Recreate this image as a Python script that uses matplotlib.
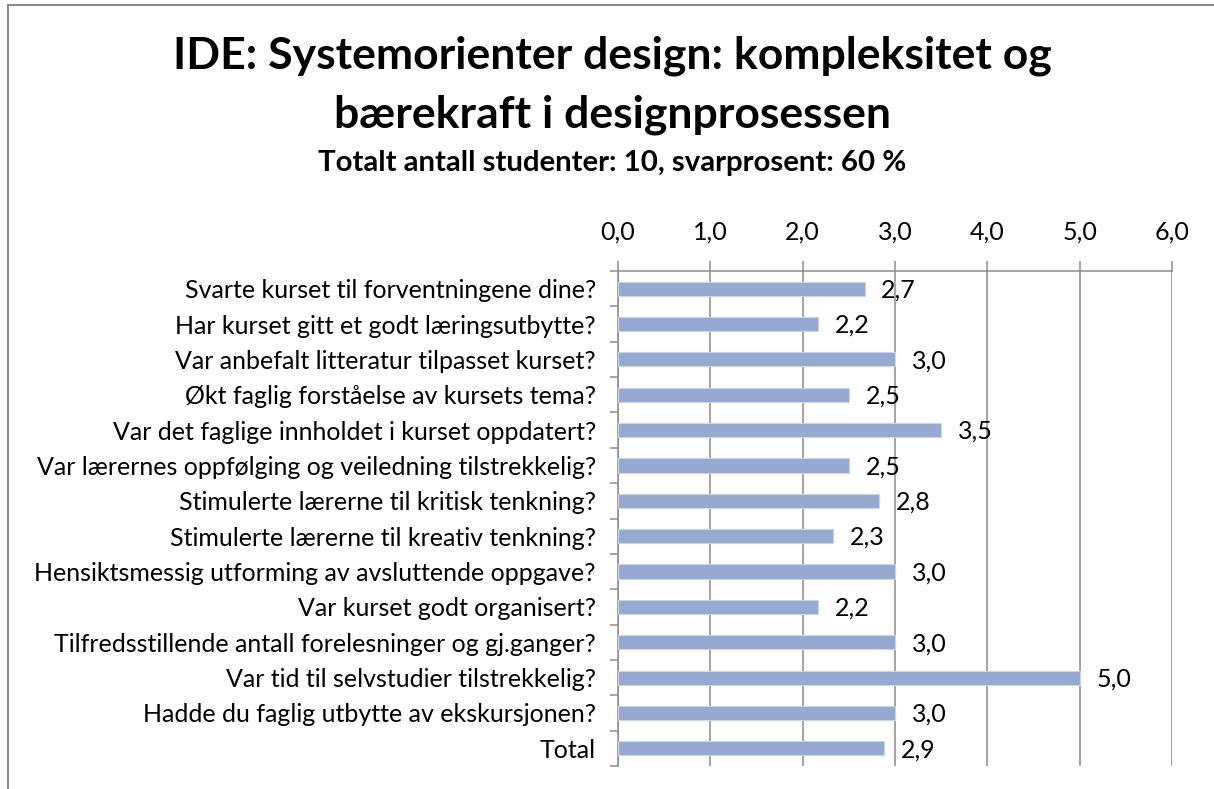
import matplotlib
matplotlib.use("Agg")
import matplotlib.pyplot as plt
from matplotlib.lines import Line2D
from matplotlib.ticker import FixedLocator, FuncFormatter

categories = [
    "Svarte kurset til forventningene dine?",
    "Har kurset gitt et godt læringsutbytte?",
    "Var anbefalt litteratur tilpasset kurset?",
    "Økt faglig forståelse av kursets tema?",
    "Var det faglige innholdet i kurset oppdatert?",
    "Var lærernes oppfølging og veiledning tilstrekkelig?",
    "Stimulerte lærerne til kritisk tenkning?",
    "Stimulerte lærerne til kreativ tenkning?",
    "Hensiktsmessig utforming av avsluttende oppgave?",
    "Var kurset godt organisert?",
    "Tilfredsstillende antall forelesninger og gj.ganger?",
    "Var tid til selvstudier tilstrekkelig?",
    "Hadde du faglig utbytte av ekskursjonen?",
    "Total",
]
values = [2.67, 2.17, 3.0, 2.5, 3.5, 2.5, 2.83, 2.33, 3.0, 2.17, 3.0, 5.0, 3.0, 2.88]
xticks = [0, 1, 2, 3, 4, 5, 6]

title_line = "IDE: Systemorienter design: kompleksitet og\nbærekraft i designprosessen"
subtitle = "Totalt antall studenter: 10, svarprosent: 60 %"

plt.rcParams['font.family'] = ['Lato', 'DejaVu Sans']

W, H = 1214, 789
fig = plt.figure(figsize=(W / 100, H / 100), dpi=100)
ax = fig.add_axes([618 / W, 1 - 766 / H, (1172 - 618) / W, (766 - 271) / H])

grid_c = '#8c8c8c'
fs = 18
n = len(categories)
pos = list(range(n))
ax.barh(pos, values, height=0.4, color='#95A9D1', edgecolor='#C9D5EB', linewidth=0.8, zorder=3)
ax.set_ylim(n - 0.5, -0.5)
ax.set_xlim(0, 6)

ax.xaxis.set_ticks_position('top')
ax.xaxis.set_label_position('top')
ax.set_xticks(xticks)
ax.xaxis.set_major_formatter(FuncFormatter(lambda v, p: f"{v:.1f}".replace('.', ',')))
ax.tick_params(axis='x', direction='out', length=7, width=1.1, color=grid_c, pad=13,
               labelsize=fs, labelcolor='black')
ax.grid(axis='x', color=grid_c, linewidth=1.1, zorder=0)

ax.set_yticks(pos)
ax.set_yticklabels(categories)
ax.tick_params(axis='y', which='major', length=0, pad=16, labelsize=fs)
ax.yaxis.set_minor_locator(FixedLocator([i - 0.5 for i in range(n + 1)]))
ax.tick_params(axis='y', which='minor', direction='out', length=6, width=1.1, color=grid_c)

for s in ['right', 'bottom']:
    ax.spines[s].set_visible(False)
for s in ['left', 'top']:
    ax.spines[s].set_color(grid_c)
    ax.spines[s].set_linewidth(1.1)

for i, v in enumerate(values):
    ax.annotate(f"{v:.1f}".replace('.', ','), xy=(v, i), xytext=(12, -1),
                textcoords='offset points', ha='left', va='center', fontsize=fs)

fig.text(612 / W, 1 - 85 / H, title_line, ha='center', va='center', fontsize=32,
         fontweight='bold', linespacing=1.55)
fig.text(612 / W, 1 - 163 / H, subtitle, ha='center', va='center', fontsize=21.2,
         fontweight='bold')

fig.add_artist(Line2D([8 / W, 8 / W], [0, 1 - 5 / H], color='#8c8c8c', linewidth=1.5,
                      transform=fig.transFigure))
fig.add_artist(Line2D([8 / W, 1], [1 - 5 / H, 1 - 5 / H], color='#8c8c8c', linewidth=1.5,
                      transform=fig.transFigure))

fig.savefig('out.png', dpi=100)
